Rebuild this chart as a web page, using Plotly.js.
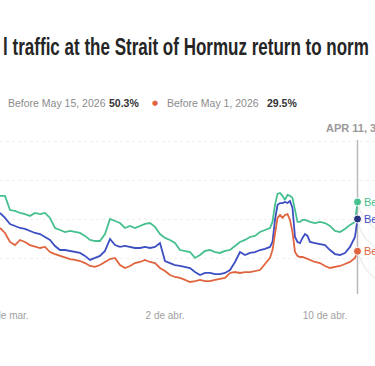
<!DOCTYPE html>
<html>
<head>
<meta charset="utf-8">
<script src="https://cdn.plot.ly/plotly-3.0.1.min.js"></script>
<style>html,body{margin:0;padding:0;background:#fff;}#chart{width:375px;height:366px;}</style>
</head>
<body>
<div id="chart"></div>
<script>
const times = [
 "2026-03-24 18:00","2026-03-25 00:00","2026-03-25 06:00","2026-03-25 12:00","2026-03-25 18:00",
 "2026-03-26 00:00","2026-03-26 06:00","2026-03-26 12:00","2026-03-26 18:00",
 "2026-03-27 00:00","2026-03-27 06:00","2026-03-27 12:00","2026-03-27 18:00",
 "2026-03-28 00:00","2026-03-28 06:00","2026-03-28 12:00","2026-03-28 18:00",
 "2026-03-29 00:00","2026-03-29 06:00","2026-03-29 12:00","2026-03-29 18:00",
 "2026-03-30 00:00","2026-03-30 06:00","2026-03-30 12:00","2026-03-30 18:00",
 "2026-03-31 00:00","2026-03-31 06:00","2026-03-31 12:00","2026-03-31 18:00",
 "2026-04-01 00:00","2026-04-01 06:00","2026-04-01 12:00","2026-04-01 18:00",
 "2026-04-02 00:00","2026-04-02 06:00","2026-04-02 12:00","2026-04-02 18:00",
 "2026-04-03 00:00","2026-04-03 06:00","2026-04-03 12:00","2026-04-03 18:00",
 "2026-04-04 00:00","2026-04-04 06:00","2026-04-04 12:00","2026-04-04 18:00",
 "2026-04-05 00:00","2026-04-05 06:00","2026-04-05 12:00","2026-04-05 18:00",
 "2026-04-06 00:00","2026-04-06 06:00","2026-04-06 12:00","2026-04-06 18:00",
 "2026-04-07 00:00","2026-04-07 06:00","2026-04-07 09:00","2026-04-07 12:00","2026-04-07 15:00",
 "2026-04-07 18:00","2026-04-07 21:00","2026-04-08 00:00","2026-04-08 03:00","2026-04-08 06:00",
 "2026-04-08 09:00","2026-04-08 12:00","2026-04-08 15:00","2026-04-08 18:00","2026-04-08 21:00",
 "2026-04-09 00:00","2026-04-09 03:00","2026-04-09 06:00","2026-04-09 12:00","2026-04-09 18:00",
 "2026-04-10 00:00","2026-04-10 06:00","2026-04-10 12:00","2026-04-10 18:00",
 "2026-04-11 00:00","2026-04-11 06:00","2026-04-11 12:00","2026-04-11 15:00"
];
const greenVals = [
 65.2,65.2,56.1,55.5,54.2,53.5,52.3,54.2,53.5,54.2,
 51.0,44.5,43.2,41.9,42.6,41.9,41.3,39.4,36.8,36.1,
 36.1,40.6,50.3,49.0,47.7,44.5,45.8,44.5,45.8,47.1,
 47.7,45.2,40.6,38.1,36.8,34.8,30.3,29.7,29.0,25.2,
 27.1,29.7,30.3,29.0,28.4,29.7,30.3,32.9,35.5,36.8,
 38.7,39.4,41.9,43.2,
 44.5,48.4,59.4,66.5,67.1,65.2,62.6,65.8,65.2,63.9,56.1,48.4,48.4,49.7,49.7,49.0,48.4,
 47.7,48.4,47.7,45.8,42.6,41.9,43.9,46.5,48.4,
 61.3
];
const blueVals = [
 54.2,51.0,47.1,45.8,44.5,43.9,42.6,41.3,40.6,38.7,
 36.8,32.9,30.3,30.3,29.7,29.0,28.4,26.5,23.9,25.2,
 26.5,29.7,37.4,33.5,32.3,32.9,32.3,31.6,31.6,32.3,
 31.6,32.3,34.8,23.2,21.9,20.6,20.0,19.4,18.7,16.1,
 14.2,15.5,15.5,14.8,14.8,15.5,17.4,22.6,29.0,27.1,
 28.4,29.0,30.3,31.0,
 32.3,35.5,49.7,59.4,60.6,60.6,61.3,60.6,61.9,57.4,38.7,35.5,34.8,38.1,40.6,39.4,35.5,
 34.8,34.2,33.5,30.3,27.7,27.1,28.4,32.3,38.7,
 50.3
];
const orangeVals = [
 44.5,41.3,35.5,33.5,36.8,35.5,33.5,32.3,31.6,32.3,
 29.0,27.7,26.5,25.2,24.5,23.9,23.2,21.9,20.0,19.4,
 20.6,22.6,24.5,25.2,20.6,18.7,20.0,21.9,22.6,23.9,
 22.6,21.9,18.7,16.8,14.2,12.9,12.3,11.0,9.7,10.3,
 11.0,10.3,10.3,11.0,11.6,12.3,15.5,16.1,15.5,16.1,
 16.1,16.8,17.4,21.3,
 25.2,30.3,39.4,51.0,52.9,51.0,52.9,53.5,49.7,41.9,29.0,26.5,25.8,25.8,25.2,24.5,23.9,
 22.6,21.9,20.0,18.7,19.4,20.0,21.3,22.6,25.2,
 29.5
];
const tailTimes = ["2026-04-11 15:00","2026-04-11 18:00","2026-04-12 00:00","2026-04-12 06:00","2026-04-12 12:00"];
const greenTail = [61.3,56.0,50.0,47.0,44.0];
const blueTail = [50.3,44.0,38.0,35.0,32.0];
const orangeTail = [29.5,25.0,19.0,15.0,12.0];

const tickDates = ["2026-03-25","2026-04-02","2026-04-10"];
const tickLabels = ["25 de mar.","2 de abr.","10 de abr."];
const hoverTime = "2026-04-11 15:00";
const names = ["Be","Before May 15, 2026","Before May 1, 2026"];
const legendValues = ["50.3%","29.5%"];

const GREEN = "#45c08e", BLUE = "#3d4fc2", ORANGE = "#e0653f", TAIL = "#ececec";

const traces = [
 {x: tailTimes, y: greenTail, mode:"lines", line:{color:TAIL,width:1.3}},
 {x: tailTimes, y: blueTail, mode:"lines", line:{color:TAIL,width:1.3}},
 {x: tailTimes, y: orangeTail, mode:"lines", line:{color:TAIL,width:1.3}},
 {x: times, y: greenVals, mode:"lines", line:{color:GREEN,width:1.8}},
 {x: times, y: blueVals, mode:"lines", line:{color:BLUE,width:1.8}},
 {x: times, y: orangeVals, mode:"lines", line:{color:ORANGE,width:1.8}},
 {x: [hoverTime,hoverTime,hoverTime], y: [greenVals[greenVals.length-1], blueVals[blueVals.length-1], orangeVals[orangeVals.length-1]],
  mode:"markers", marker:{size:8, color:[GREEN,"#26337f",ORANGE], line:{color:"#fff",width:1}}}
];

const py = p => (297 - p) / 167;
const LEG = {family:"Liberation Sans, Arial, sans-serif", size:10.5, color:"#8c8c8c"};
const layout = {
 width: 375, height: 366,
 margin: {l:0, r:0, t:130, b:69},
 paper_bgcolor: "#fff", plot_bgcolor: "#fff",
 showlegend: false,
 xaxis: {type:"date", range:["2026-03-24 18:00","2026-04-12 12:00"], tickvals: tickDates, ticktext: tickLabels,
   showgrid:false, zeroline:false, showline:false, ticks:"outside", ticklen:9, tickcolor:"rgba(0,0,0,0)",
   ticklabeloverflow:"allow",
   tickfont:{family:"Liberation Sans, Arial, sans-serif", size:10, color:"#a0a0a0"}},
 yaxis: {range:[0,107.7], tickvals:[0,25,50,75,100], showticklabels:false, showgrid:true,
   gridcolor:"#f0f0f0", griddash:"dot", gridwidth:1, zeroline:false, showline:false},
 shapes: [
   {type:"line", xref:"x", yref:"y", x0:hoverTime, x1:hoverTime, y0:1.9, y1:101.3, line:{color:"#b8b8b8", width:1.5}, layer:"below"}
 ],
 annotations: [
   {xref:"paper", yref:"paper", x:1/375, y:py(47), xanchor:"left", yanchor:"middle", showarrow:false,
    text:"<b>l traffic at the Strait of Hormuz return to norm</b>", font:{family:"Liberation Sans, Arial, sans-serif", size:23, color:"#252525"}},
   {xref:"paper", yref:"paper", x:6/375, y:py(103), xanchor:"left", yanchor:"middle", showarrow:false,
    text:"Before May 15, 2026", font:LEG},
   {xref:"paper", yref:"paper", x:107/375, y:py(103), xanchor:"left", yanchor:"middle", showarrow:false,
    text:"<b>"+legendValues[0]+"</b>", font:{family:"Liberation Sans, Arial, sans-serif", size:10.5, color:"#333"}},
   {xref:"paper", yref:"paper", x:155/375, y:py(103), xanchor:"center", yanchor:"middle", showarrow:false,
    text:"●", font:{family:"DejaVu Sans, sans-serif", size:7, color:ORANGE}},
   {xref:"paper", yref:"paper", x:165/375, y:py(103), xanchor:"left", yanchor:"middle", showarrow:false,
    text:"Before May 1, 2026", font:LEG},
   {xref:"paper", yref:"paper", x:265/375, y:py(103), xanchor:"left", yanchor:"middle", showarrow:false,
    text:"<b>"+legendValues[1]+"</b>", font:{family:"Liberation Sans, Arial, sans-serif", size:10.5, color:"#333"}},
   {xref:"paper", yref:"paper", x:324/375, y:py(128), xanchor:"left", yanchor:"middle", showarrow:false,
    text:"<b>APR 11, 3:00 PM</b>", font:{family:"Liberation Sans, Arial, sans-serif", size:11, color:"#9a9a9a"}},
   {xref:"paper", yref:"y", x:362/375, y:greenVals[greenVals.length-1], xanchor:"left", yanchor:"middle", showarrow:false,
    text:names[0], font:{family:"Liberation Sans, Arial, sans-serif", size:11, color:GREEN}},
   {xref:"paper", yref:"y", x:362/375, y:blueVals[blueVals.length-1], xanchor:"left", yanchor:"middle", showarrow:false,
    text:names[1], font:{family:"Liberation Sans, Arial, sans-serif", size:11, color:BLUE}},
   {xref:"paper", yref:"y", x:362/375, y:orangeVals[orangeVals.length-1], xanchor:"left", yanchor:"middle", showarrow:false,
    text:names[2], font:{family:"Liberation Sans, Arial, sans-serif", size:11, color:ORANGE}}
 ]
};
Plotly.newPlot("chart", traces, layout, {displayModeBar:false, staticPlot:true}).then(function(gd){
  // condense the title horizontally to mimic a narrow headline face
  const t = gd.querySelector(".annotation text.annotation-text");
  if (t) {
    const bb = t.getBBox();
    const s = 366 / bb.width;
    t.setAttribute("transform", "translate(" + bb.x + ",0) scale(" + s + ",1) translate(" + (-bb.x) + ",0)");
  }
});
</script>
</body>
</html>
